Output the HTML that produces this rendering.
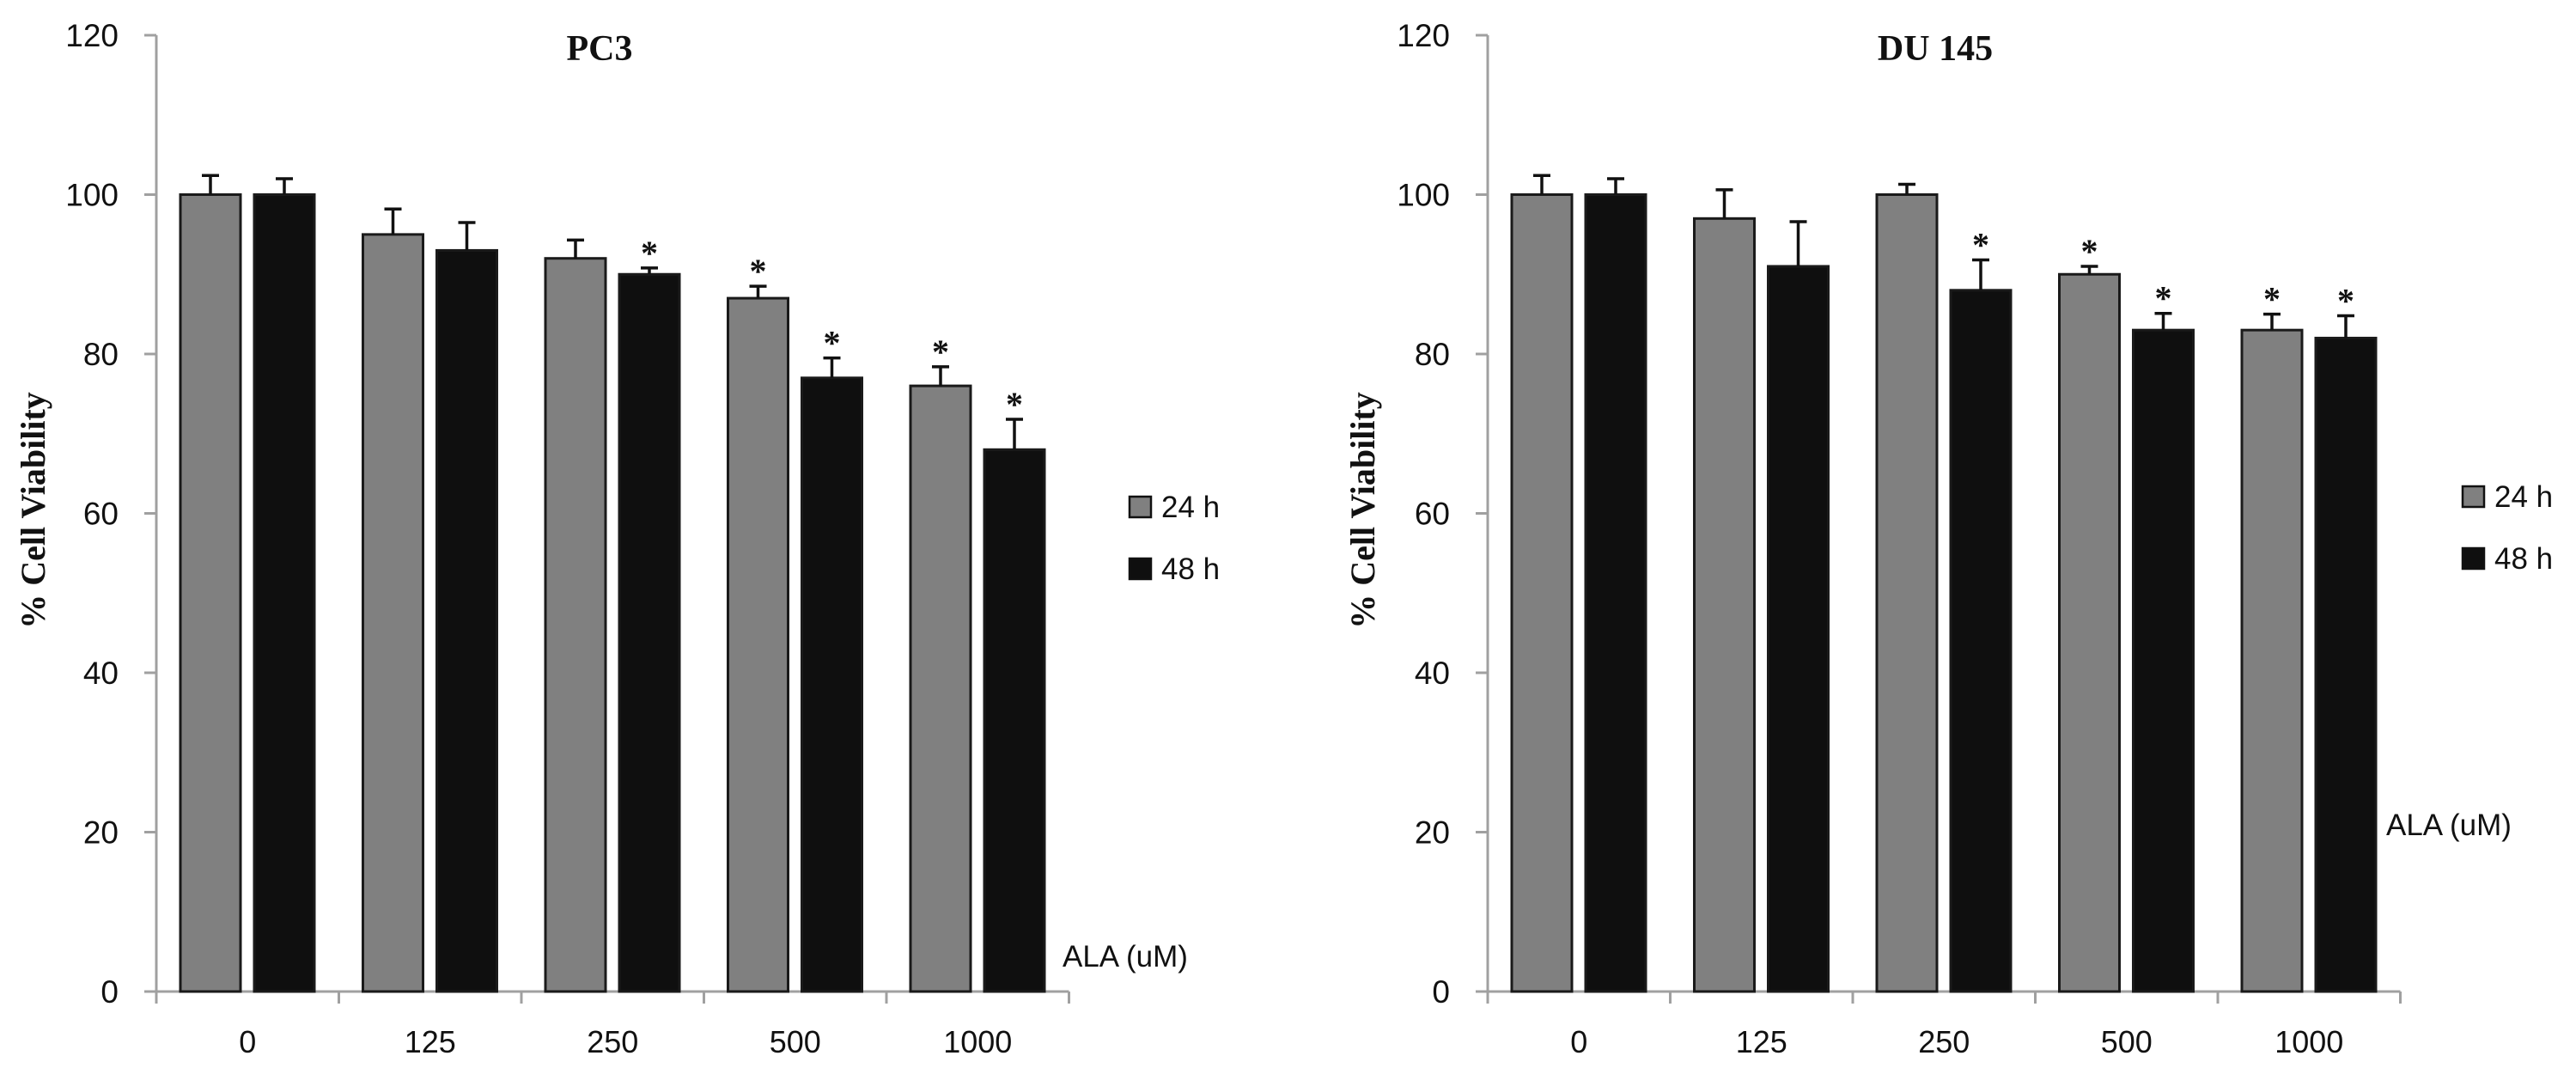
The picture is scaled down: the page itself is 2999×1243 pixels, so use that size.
<!DOCTYPE html>
<html><head><meta charset="utf-8"><style>
html,body{margin:0;padding:0;background:#fff;}
svg{display:block;}
text{font-family:"Liberation Sans",sans-serif;fill:#111;}
.serif{font-family:"Liberation Serif",serif;font-weight:bold;}
</style></head><body>
<svg id="fig" width="2999" height="1243" viewBox="0 0 2999 1243" xmlns="http://www.w3.org/2000/svg"></svg>
<script>
const categories = ["0","125","250","500","1000"];
const yTicks = [0,20,40,60,80,100,120];
const pc3_24 = [100,95,92,87,76];
const pc3_24err = [2.4,3.2,2.3,1.5,2.4];
const pc3_48 = [100,93,90,77,68];
const pc3_48err = [2.0,3.5,0.8,2.5,3.8];
const pc3_24star = [0,0,0,1,1];
const pc3_48star = [0,0,1,1,1];
const du_24 = [100,97,100,90,83];
const du_24err = [2.4,3.6,1.3,1.0,2.0];
const du_48 = [100,91,88,83,82];
const du_48err = [2.0,5.6,3.8,2.1,2.8];
const du_24star = [0,0,0,1,1];
const du_48star = [0,0,1,1,1];

const NS = "http://www.w3.org/2000/svg";
const svg = document.getElementById('fig');
function mk(tag, attrs, parent){
  const e = document.createElementNS(NS, tag);
  for (const k in attrs) e.setAttribute(k, attrs[k]);
  (parent||svg).appendChild(e);
  return e;
}
const Y0 = 1154, PX = 9.275, CW = 212.5;
function yS(v){ return Y0 - v*PX; }

function chart(cfg){
  const g = mk('g', {});
  
  
  const ax = cfg.ax;
  function xS(i){ return ax + i*CW; }
  const t = mk('text', {x: cfg.titleX, y: 70, 'font-size': 42, 'text-anchor':'middle', class:'serif'}, g);
  t.textContent = cfg.title;
  
  
  const yl = mk('text', {x:0, y:0, 'font-size': 40, 'text-anchor':'middle', class:'serif', transform:`translate(${cfg.ylX},594) rotate(-90)`}, g);
  yl.textContent = '% Cell Viability';
  
  
  const ya = mk('line', {x1:ax, y1:yS(120), x2:ax, y2:Y0, stroke:'#a0a0a0', 'stroke-width':3}, g);
  
  
  yTicks.forEach(v => {
    const tk = mk('line', {x1:ax-14, y1:yS(v), x2:ax, y2:yS(v), stroke:'#a0a0a0', 'stroke-width':3}, g);
    
    
    const tl = mk('text', {x:ax-44, y:yS(v)+13, 'font-size':37, 'text-anchor':'end'}, g);
    tl.textContent = v;
    
    
  });
  const xa = mk('line', {x1:ax-14, y1:Y0, x2:xS(categories.length), y2:Y0, stroke:'#a0a0a0', 'stroke-width':3}, g);
  
  
  for (let i=0;i<=categories.length;i++){
    const tk = mk('line', {x1:xS(i), y1:Y0, x2:xS(i), y2:Y0+14, stroke:'#a0a0a0', 'stroke-width':3}, g);
    
    
  }
  categories.forEach((c,i) => {
    const tl = mk('text', {x:xS(i)+CW/2, y:1225, 'font-size':36, 'text-anchor':'middle'}, g);
    tl.textContent = c;
    
    
  });
  const series = [
    {vals:cfg.s24, err:cfg.e24, star:cfg.st24, fill:'#808080', off:28, name:'bar-24h'},
    {vals:cfg.s48, err:cfg.e48, star:cfg.st48, fill:'#0f0f0f', off:114, name:'bar-48h'}
  ];
  const BW = 70;
  series.forEach(s => {
    s.vals.forEach((v,i) => {
      const x = xS(i) + s.off;
      const r = mk('rect', {x:x, y:yS(v), width:BW, height:Y0-yS(v), fill:s.fill, stroke:'#1a1a1a', 'stroke-width':3}, g);
      
      
      const cx = x + BW/2, top = yS(v + s.err[i]);
      const eb = mk('path', {d:`M${cx},${yS(v)} L${cx},${top} M${cx-10},${top} L${cx+10},${top}`, stroke:'#111', 'stroke-width':3.5, fill:'none'}, g);
      
      
      if (s.star[i]) {
        const st = mk('text', {x:cx, y:top-4, 'font-size':40, 'text-anchor':'middle', class:'serif'}, g);
        st.textContent = '*';
        
        
      }
    });
  });
  const lg = mk('g', {}, g);
  
  
  [['24 h','#808080',cfg.legY],['48 h','#0f0f0f',cfg.legY+72]].forEach(([lab,col,y]) => {
    const b = mk('rect', {x:cfg.legX, y:y-24, width:25, height:24, fill:col, stroke:'#111', 'stroke-width':2.5}, lg);
    
    
    const lt = mk('text', {x:cfg.legX+37, y:y, 'font-size':35}, lg);
    lt.textContent = lab;
    
    
  });
  const al = mk('text', {x:cfg.alaX, y:cfg.alaY, 'font-size':35}, g);
  al.textContent = 'ALA (uM)';
  
  
}

chart({name:'pc3-chart', title:'PC3', titleX:698, ylX:52, ax:182,
  s24:pc3_24, e24:pc3_24err, st24:pc3_24star, s48:pc3_48, e48:pc3_48err, st48:pc3_48star,
  legX:1315, legY:602, alaX:1237, alaY:1125});
chart({name:'du145-chart', title:'DU 145', titleX:2253, ylX:1600, ax:1732,
  s24:du_24, e24:du_24err, st24:du_24star, s48:du_48, e48:du_48err, st48:du_48star,
  legX:2867, legY:590, alaX:2778, alaY:972});
</script>
</body></html>
